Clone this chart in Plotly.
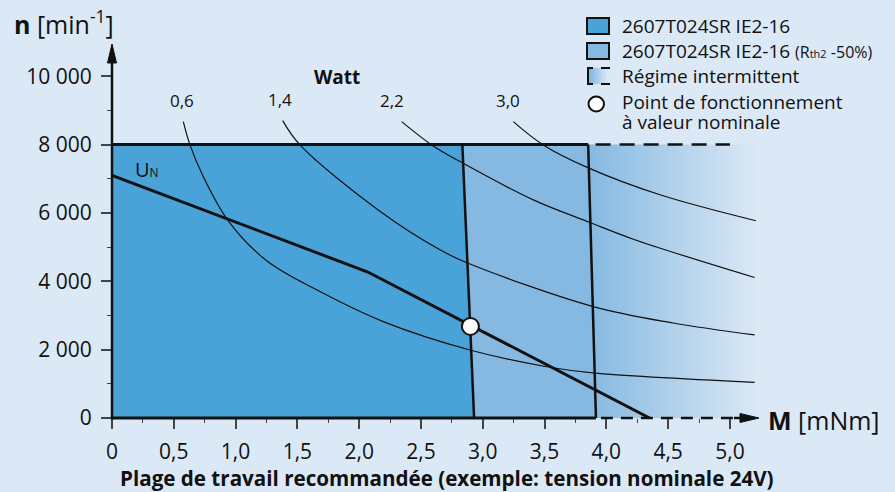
import plotly.graph_objects as go

# ---------------- data ----------------
M_TICKS = [0, 0.5, 1.0, 1.5, 2.0, 2.5, 3.0, 3.5, 4.0, 4.5, 5.0]
M_TICK_TEXT = ["0", "0,5", "1,0", "1,5", "2,0", "2,5", "3,0", "3,5", "4,0", "4,5", "5,0"]
M_MINOR = [0.25, 0.75, 1.25, 1.75, 2.25, 2.75, 3.25, 3.75, 4.25, 4.75]
N_TICKS = [0, 2000, 4000, 6000, 8000, 10000]
N_TICK_TEXT = ["0", "2 000", "4 000", "6 000", "8 000", "10 000"]
N_MINOR = [1000, 3000, 5000, 7000, 9000]

N_MAX = 8000
# continuous-duty limits
LIM1_M = [2.835, 2.93]      # 2607T024SR IE2-16
LIM1_N = [8000, 0]
LIM2_M = [3.853, 3.916]     # 2607T024SR IE2-16 (Rth2 -50%)
LIM2_N = [8000, 0]
INTERMITTENT_END_M = 5.22
DASH_END_M = 5.0

# nominal-voltage characteristic U_N
UN_M = [0, 2.07, 4.35]
UN_N = [7100, 4270, 0]

# nominal operating point
OP_M = [2.90]
OP_N = [2680]

# constant output power curves (Watt)
WATT_LABELS = ["0,6", "1,4", "2,2", "3,0"]
W06_M = [0.577, 0.631, 0.739, 0.941, 1.252, 1.656, 2.195, 2.896, 3.517, 3.892, 5.20]
W06_N = [8670, 7990, 7060, 5770, 4600, 3750, 2820, 1990, 1500, 1320, 1045]
W14_M = [1.381, 1.521, 2.168, 2.654, 2.872, 3.894, 4.54, 5.20]
W14_N = [8700, 7990, 6050, 4920, 4540, 3260, 2780, 2430]
W22_M = [2.344, 2.587, 2.842, 3.409, 3.867, 4.218, 5.20]
W22_N = [8670, 7990, 7450, 6380, 5720, 5230, 4110]
W30_M = [3.247, 3.489, 3.859, 4.434, 5.21]
W30_N = [8670, 7990, 7310, 6530, 5770]
WATT_M = [W06_M, W14_M, W22_M, W30_M]
WATT_N = [W06_N, W14_N, W22_N, W30_N]

LEGEND_TEXT = [
    "2607T024SR IE2-16",
    "2607T024SR IE2-16 <span style='font-size:16px'>(R<span style='font-size:11px'>th2</span> -50%)</span>",
    "Régime intermittent",
    "Point de fonctionnement",
    "à valeur nominale",
]

# ---------------- style ----------------
BG = "#dbe8f5"
DARK = "#49a3d8"
LIGHT = "#85b9e1"
INK = "#111111"
FONT = "Open Sans"

W, H = 895, 492
L, R, T, B = 112, 128, 42, 74
PW, PH = W - L - R, H - T - B


def px(x):
    return (x - L) / PW


def py(y):
    return (H - B - y) / PH


fig = go.Figure()

# filled regions
fig.add_trace(go.Scatter(
    x=[0, 0, LIM1_M[0], LIM1_M[1]], y=[0, N_MAX, LIM1_N[0], LIM1_N[1]],
    fill="toself", fillcolor=DARK, line=dict(width=0), mode="lines", hoverinfo="skip"))
fig.add_trace(go.Scatter(
    x=[LIM1_M[1], LIM1_M[0], LIM2_M[0], LIM2_M[1]], y=[LIM1_N[1], LIM1_N[0], LIM2_N[0], LIM2_N[1]],
    fill="toself", fillcolor=LIGHT, line=dict(width=0), mode="lines", hoverinfo="skip"))
fig.add_trace(go.Scatter(
    x=[LIM2_M[1], LIM2_M[0], INTERMITTENT_END_M, INTERMITTENT_END_M],
    y=[LIM2_N[1], LIM2_N[0], N_MAX, 0],
    fill="toself", fillgradient=dict(type="horizontal", colorscale=[[0, LIGHT], [1, BG]]),
    line=dict(width=0), mode="lines", hoverinfo="skip"))

# watt curves
for mx, ny in zip(WATT_M, WATT_N):
    fig.add_trace(go.Scatter(x=mx, y=ny, mode="lines",
                             line=dict(color=INK, width=1.2, shape="spline", smoothing=1.0),
                             hoverinfo="skip"))

# speed limit line and dashed continuation
fig.add_trace(go.Scatter(x=[0, LIM2_M[0]], y=[N_MAX, N_MAX], mode="lines",
                         line=dict(color=INK, width=3), hoverinfo="skip"))
fig.add_trace(go.Scatter(x=[LIM2_M[0] + 0.06, DASH_END_M], y=[N_MAX, N_MAX], mode="lines",
                         line=dict(color=INK, width=2.5, dash="15px,9px"), hoverinfo="skip"))
# limit verticals
for mx, ny in [(LIM1_M, LIM1_N), (LIM2_M, LIM2_N)]:
    fig.add_trace(go.Scatter(x=mx, y=ny, mode="lines", line=dict(color=INK, width=2.5),
                             hoverinfo="skip"))
# U_N
fig.add_trace(go.Scatter(x=UN_M, y=UN_N, mode="lines", line=dict(color=INK, width=3),
                         hoverinfo="skip"))
# operating point
fig.add_trace(go.Scatter(x=OP_M, y=OP_N, mode="markers",
                         marker=dict(size=17, color="white", line=dict(color=INK, width=2)),
                         hoverinfo="skip"))

shapes = []
# y axis line + arrow head
shapes.append(dict(type="line", xref="paper", yref="paper", x0=px(112), x1=px(112),
                   y0=py(419.5), y1=py(58), line=dict(color=INK, width=2.5), layer="above"))
shapes.append(dict(type="path", xref="paper", yref="paper",
                   path="M %f %f L %f %f L %f %f Z" % (px(112), py(44), px(107.5), py(63),
                                                       px(116.5), py(63)),
                   fillcolor=INK, line=dict(color=INK, width=1), layer="above"))
# x axis: solid part, dashed part, arrow head
shapes.append(dict(type="line", xref="x", yref="paper", x0=-0.1, x1=LIM2_M[1], y0=0, y1=0,
                   line=dict(color=INK, width=3), layer="above"))
shapes.append(dict(type="line", xref="x", yref="paper", x0=LIM2_M[1] + 0.04, x1=5.06, y0=0, y1=0,
                   line=dict(color=INK, width=2.5, dash="12px,8px"), layer="above"))
shapes.append(dict(type="line", xref="paper", yref="paper", x0=px(734), x1=px(745), y0=0, y1=0,
                   line=dict(color=INK, width=2.5), layer="above"))
shapes.append(dict(type="path", xref="paper", yref="paper",
                   path="M %f %f L %f %f L %f %f Z" % (px(759), py(418), px(740), py(413.5),
                                                       px(740), py(422.5)),
                   fillcolor=INK, line=dict(color=INK, width=1), layer="above"))


# legend icons
def box(y0, y1, color):
    shapes.append(dict(type="rect", xref="paper", yref="paper", x0=px(587), x1=px(609),
                       y0=py(y1), y1=py(y0), fillcolor=color, line=dict(color=INK, width=2)))


box(18, 34, DARK)
box(43, 59, LIGHT)
steps = 10
c0 = (0x85, 0xb9, 0xe1)
c1 = (0xdb, 0xe8, 0xf5)
for i in range(steps):
    t = i / (steps - 1)
    col = "rgb(%d,%d,%d)" % tuple(round(a + (b - a) * t) for a, b in zip(c0, c1))
    xa = 589 + i * 2
    shapes.append(dict(type="rect", xref="paper", yref="paper", x0=px(xa), x1=px(xa + 2),
                       y0=py(84), y1=py(68), fillcolor=col, line=dict(width=0)))
shapes.append(dict(type="path", xref="paper", yref="paper",
                   path="M %f %f L %f %f L %f %f L %f %f" % (px(593), py(68), px(588), py(68),
                                                            px(588), py(84), px(593), py(84)),
                   line=dict(color=INK, width=2)))
for yy in (68, 84):
    shapes.append(dict(type="line", xref="paper", yref="paper", x0=px(601), x1=px(610),
                       y0=py(yy), y1=py(yy), line=dict(color=INK, width=2)))
shapes.append(dict(type="circle", xref="paper", yref="paper", x0=px(588.5), x1=px(604),
                   y0=py(111.5), y1=py(96.5), fillcolor="white", line=dict(color=INK, width=2)))

annotations = []


def ptext(x, y, text, size, xanchor="left", bold=False):
    annotations.append(dict(x=px(x), y=py(y), xref="paper", yref="paper", xanchor=xanchor,
                            yanchor="middle", showarrow=False, borderpad=0,
                            text=("<b>%s</b>" % text) if bold else text,
                            font=dict(size=size, color=INK)))


# axis titles
annotations.append(dict(x=px(12), y=py(22), xref="paper", yref="paper", xanchor="left",
                        yanchor="middle", showarrow=False,
                        text="<b>n</b> [min<sup>-1</sup>]", font=dict(size=25, color=INK)))
ptext(767, 420, "<b>M</b> [mNm]", 25)
ptext(447, 478, "Plage de travail recommandée (exemple: tension nominale 24V)", 20.6,
      xanchor="center", bold=True)
ptext(337, 77, "Watt", 19, xanchor="center", bold=True)

# watt labels
label_shift = [-1, -3, -10, -5]
for lab, mx, ny, sh in zip(WATT_LABELS, WATT_M, WATT_N, label_shift):
    annotations.append(dict(x=mx[0], y=ny[0], xref="x", yref="y", showarrow=False,
                            xanchor="center", yanchor="middle",
                            text=lab, xshift=sh, yshift=21, font=dict(size=17, color=INK)))
# U_N label
annotations.append(dict(x=UN_M[0], y=UN_N[0], xref="x", yref="y", xanchor="left",
                        yanchor="bottom", xshift=21, yshift=-10, showarrow=False,
                        text="U<span style='font-size:12px'>N</span>",
                        font=dict(size=20, color=INK)))
# legend texts
for txt, yy in zip(LEGEND_TEXT, [26, 51, 76, 102, 122]):
    ptext(621, yy, txt, 19)

fig.update_layout(
    width=W, height=H,
    margin=dict(l=L, r=R, t=T, b=B, pad=0),
    paper_bgcolor=BG, plot_bgcolor=BG,
    font=dict(family=FONT, color=INK),
    showlegend=False,
    shapes=shapes,
    annotations=annotations,
    xaxis=dict(range=[0, 5.3], showgrid=False, zeroline=False, showline=False,
               tickmode="array", tickvals=M_TICKS, ticktext=M_TICK_TEXT,
               ticks="outside", ticklen=10, tickwidth=1.5, tickcolor="#444",
               ticklabelstandoff=5,
               tickfont=dict(size=21, color=INK),
               minor=dict(tickmode="array", tickvals=M_MINOR, ticks="outside", ticklen=4,
                          tickwidth=1.2, tickcolor="#444", showgrid=False),
               fixedrange=True),
    yaxis=dict(range=[0, 11000], showgrid=False, zeroline=False, showline=False,
               tickmode="array", tickvals=N_TICKS, ticktext=N_TICK_TEXT,
               ticks="outside", ticklen=10, tickwidth=1.5, tickcolor="#444",
               ticklabelstandoff=5,
               tickfont=dict(size=21, color=INK),
               minor=dict(tickmode="array", tickvals=N_MINOR, ticks="outside", ticklen=4,
                          tickwidth=1.2, tickcolor="#444", showgrid=False),
               fixedrange=True),
)

fig.write_html("out.html", config={"displayModeBar": False},
               post_script="document.body.style.margin='0';document.body.style.padding='0';")
